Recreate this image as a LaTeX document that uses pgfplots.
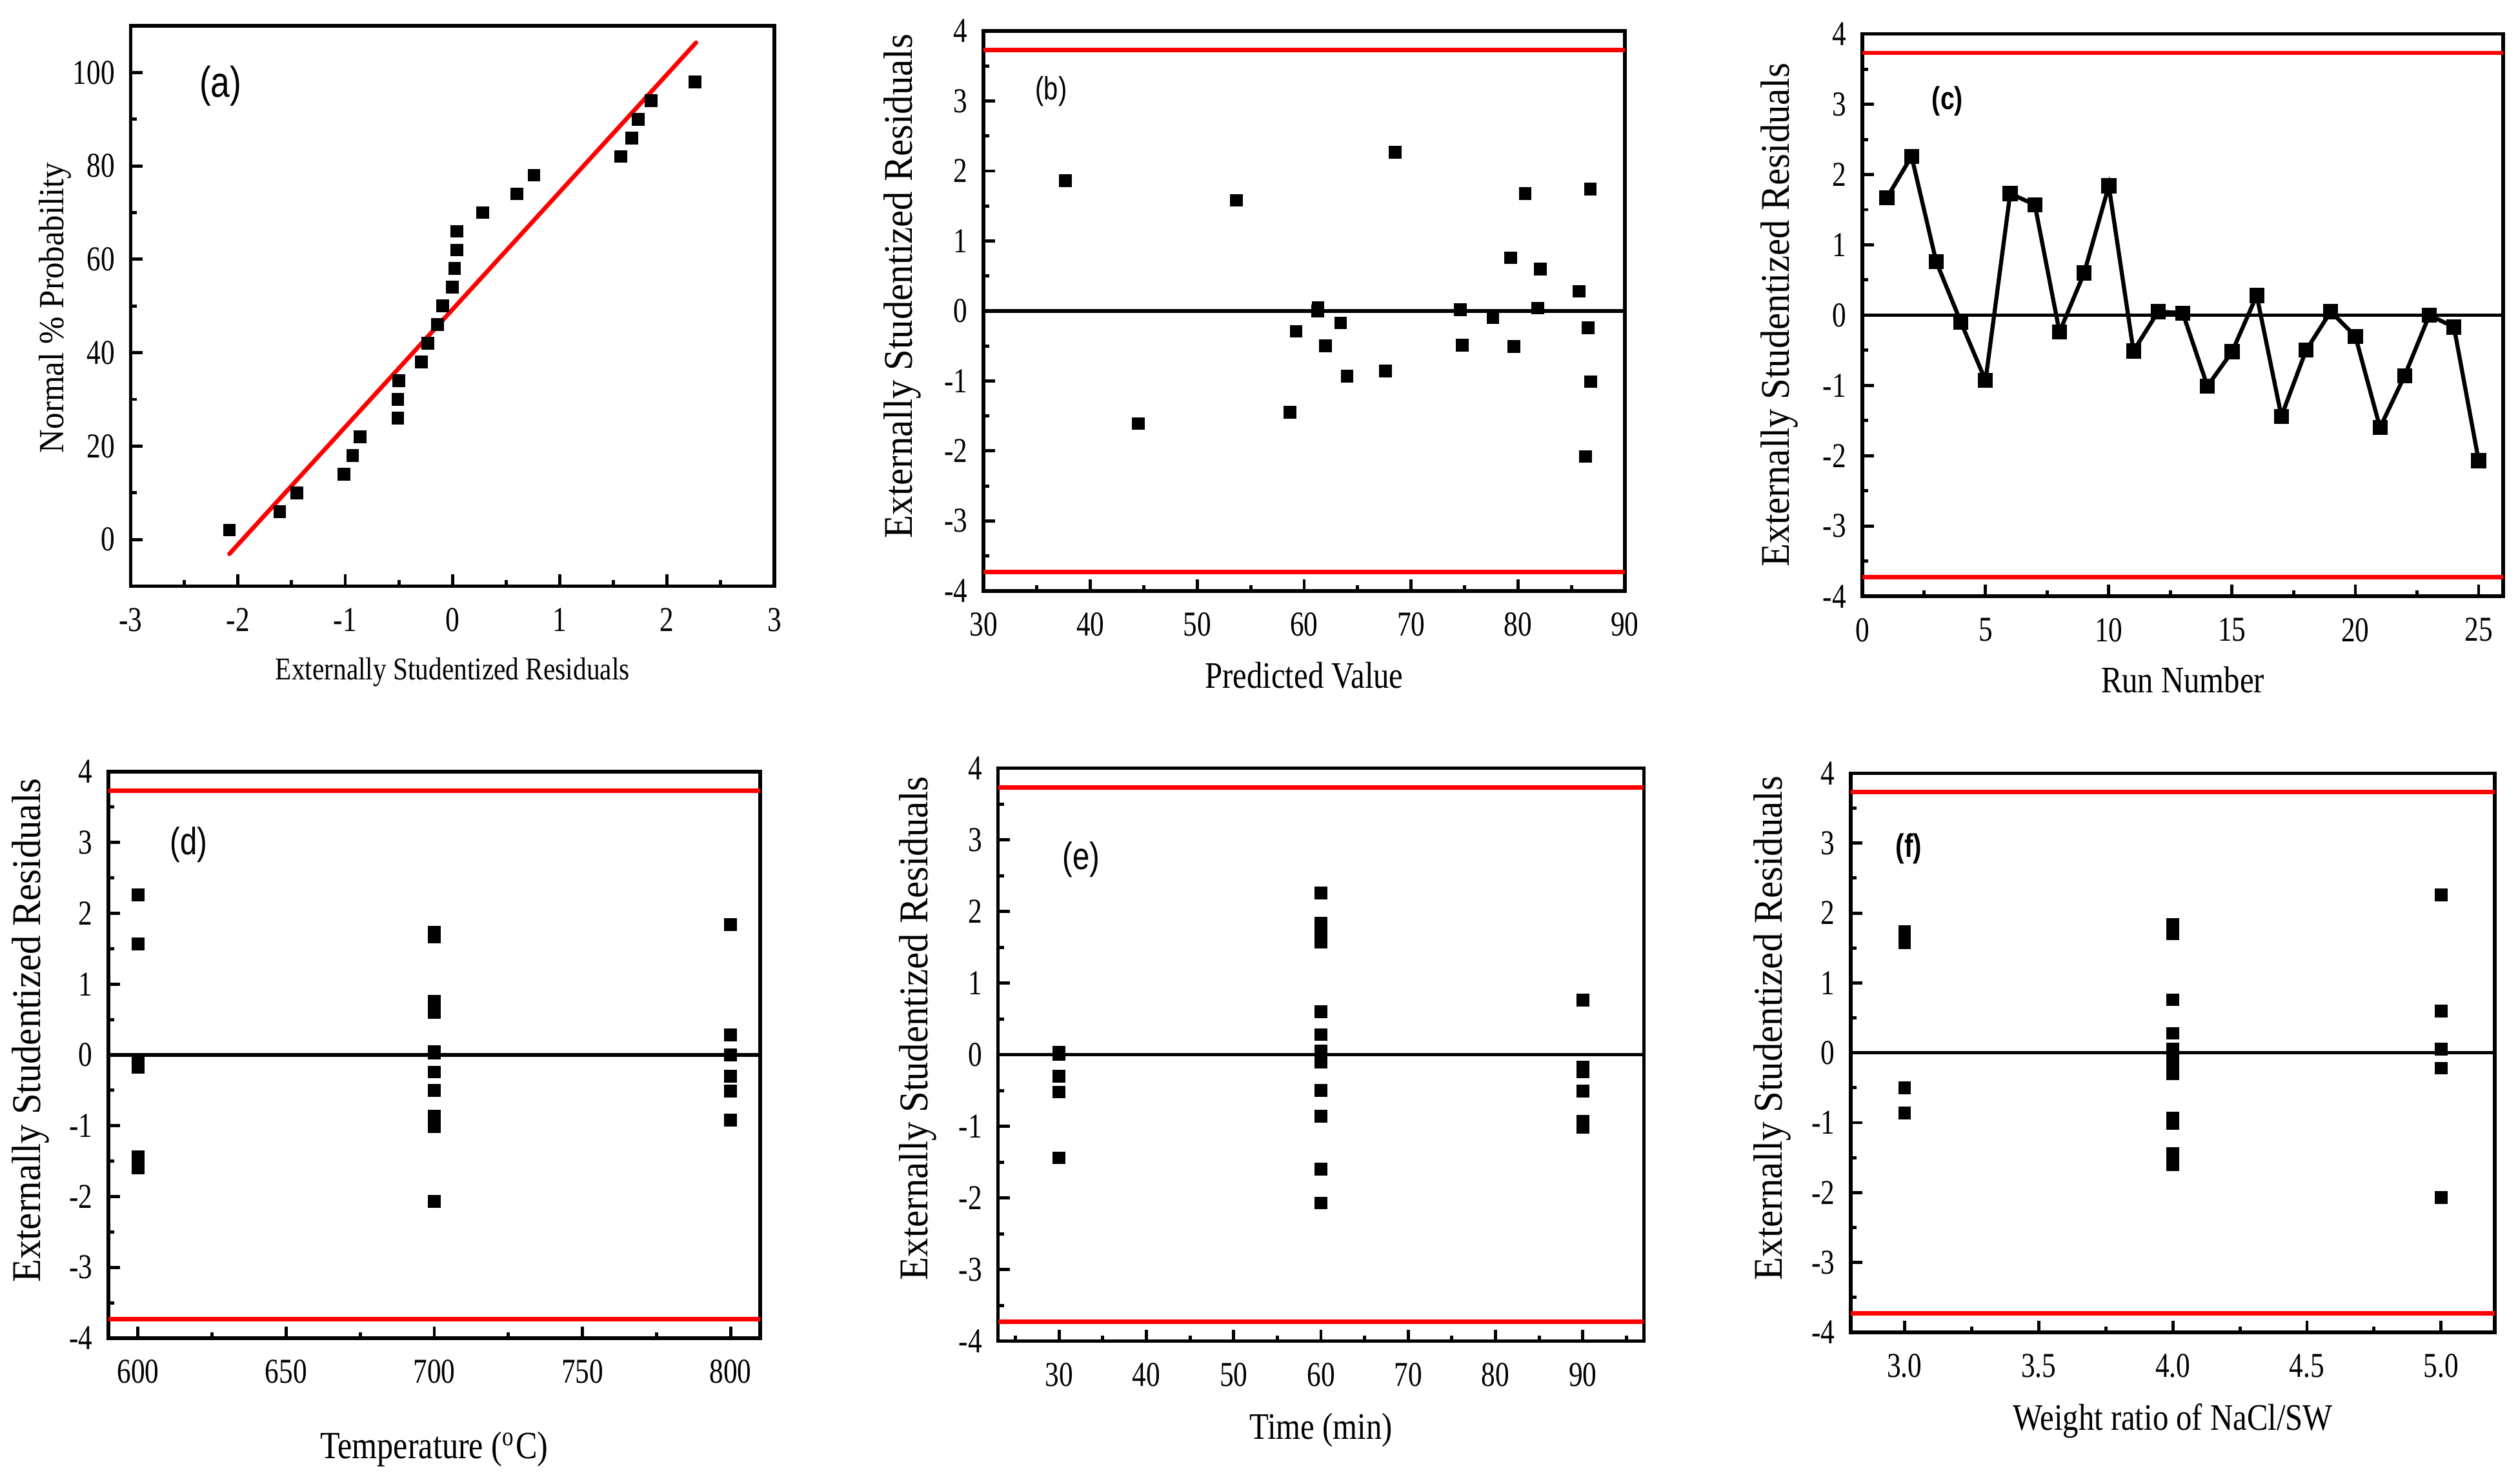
\documentclass[border=0pt]{standalone}
\usepackage{fontspec}
\setmainfont{Liberation Serif}
\newfontfamily\tickfont[FakeStretch=0.8]{Liberation Serif}
\newfontfamily\xlabfont[FakeStretch=0.84]{Liberation Serif}
\newfontfamily\ylabfont[FakeStretch=0.93]{Liberation Serif}
\newfontfamily\panfont[FakeStretch=0.8]{Liberation Sans}
\usepackage{pgfplots}
\pgfplotsset{compat=1.18}

% 1 px of the reference = 0.05 mm
\pgfplotsset{
  resid/.style={
    scale only axis, anchor=south west,
    axis line style={line width=0.8pt},
    tick align=inside, tick pos=left,
    major tick length=0.9mm, minor tick length=0.45mm,
    every tick/.append style={line width=0.7pt, black},
    /pgf/number format/assume math mode=true,
    tick label style={font=\tickfont\fontsize{7.7}{8}\selectfont},
    xticklabel style={yshift=-0.45mm},
    xlabel style={font=\xlabfont\fontsize{8.25}{9}\selectfont, anchor=base},
    ylabel style={font=\ylabfont\fontsize{9}{10}\selectfont, anchor=center},
  },
  res4/.style={
    resid,
    ymin=-4, ymax=4, ytick={-4,-3,...,4}, minor y tick num=1,
    ylabel={Externally Studentized Residuals},
  },
  pts/.style={only marks, mark=square*, mark size=1.2pt, black},
  lim/.style={red, line width=0.95pt, no marks},
  zero/.style={black, line width=0.75pt, no marks},
}

\begin{document}
\begin{tikzpicture}
\useasboundingbox (0,0) rectangle (195.1mm,-115mm);

% (a) normal probability plot
\begin{axis}[resid,
    at={(10.125mm,-45.425mm)}, width=49.875mm, height=43.425mm,
    xmin=-3, xmax=3, ymin=-10, ymax=110,
    xtick={-3,...,3}, ytick={0,20,...,100}, minor tick num=1,
    xlabel={Externally Studentized Residuals},
    xlabel style={font=\xlabfont\fontsize{7}{8}\selectfont, at={(axis description cs:0.5,-0.167)}},
    ylabel={Normal \% Probability},
    ylabel style={font=\ylabfont\fontsize{7.8}{9}\selectfont, at={(axis description cs:-0.117,0.497)}},
]
\addplot[red, line width=0.95pt, line cap=round] coordinates {(-2.08,-3.1) (2.27,106.4)};
\addplot[pts] coordinates {
  (-2.08,2) (-1.61,6) (-1.45,10) (-1.01,14) (-0.93,18) (-0.86,22)
  (-0.51,26) (-0.51,30) (-0.50,34) (-0.29,38) (-0.23,42) (-0.14,46)
  (-0.09,50) (0.00,54) (0.02,58) (0.04,62) (0.04,66) (0.28,70)
  (0.60,74) (0.76,78) (1.57,82) (1.67,86) (1.73,90) (1.85,94) (2.26,98)
};
\node[font=\panfont\fontsize{9.5}{10}\selectfont] at (rel axis cs:0.1396,0.8926) {(a)};
\end{axis}

% (b) residuals vs predicted
\begin{axis}[res4,
    at={(76.2mm,-45.79mm)}, width=49.7mm, height=43.39mm,
    xmin=30, xmax=90, xtick={30,40,...,90}, minor x tick num=1,
    xlabel={Predicted Value},
    xlabel style={at={(axis description cs:0.5,-0.174)}},
    ylabel style={at={(axis description cs:-0.126,0.544)}},
]
\addplot[lim] coordinates {(30,3.73) (90,3.73)};
\addplot[lim] coordinates {(30,-3.73) (90,-3.73)};
\addplot[zero] coordinates {(30,0) (90,0)};
\addplot[pts] coordinates {
  (37.65,1.86) (44.49,-1.61) (53.65,1.58) (58.69,-1.45) (59.24,-0.29)
  (61.25,0.00) (61.30,0.05) (62.00,-0.50) (63.42,-0.17) (64.02,-0.93) (67.60,-0.86)
  (68.50,2.27) (74.59,0.02) (74.79,-0.49) (77.66,-0.09) (79.32,0.76)
  (79.62,-0.51) (80.68,1.68) (81.84,0.04) (82.09,0.60) (85.71,0.28)
  (86.32,-2.08) (86.57,-0.24) (86.77,1.74) (86.82,-1.01)
};
\node[font=\panfont\fontsize{7.1}{8}\selectfont] at (rel axis cs:0.1056,0.892) {(b)};
\end{axis}

% (c) residuals vs run
\begin{axis}[res4,
    at={(144.29mm,-46.21mm)}, width=49.67mm, height=43.58mm,
    xmin=0, xmax=26, xtick={0,5,...,25}, minor x tick num=1,
    xlabel={Run Number},
    xlabel style={at={(axis description cs:0.5,-0.1715)}},
    ylabel style={at={(axis description cs:-0.129,0.5)}},
]
\addplot[lim] coordinates {(0,3.73) (26,3.73)};
\addplot[lim] coordinates {(0,-3.73) (26,-3.73)};
\addplot[zero] coordinates {(0,0) (26,0)};
\addplot[black, line width=0.9pt, mark=square*, mark size=1.2pt] coordinates {
  (1,1.67) (2,2.26) (3,0.76) (4,-0.10) (5,-0.93) (6,1.73) (7,1.57)
  (8,-0.24) (9,0.60) (10,1.84) (11,-0.51) (12,0.05) (13,0.03) (14,-1.01)
  (15,-0.52) (16,0.28) (17,-1.44) (18,-0.50) (19,0.05) (20,-0.30)
  (21,-1.60) (22,-0.86) (23,0.00) (24,-0.17) (25,-2.07)
};
\node[font=\panfont\bfseries\fontsize{7}{8}\selectfont] at (rel axis cs:0.133,0.881) {(c)};
\end{axis}

% (d) residuals vs temperature
\begin{axis}[res4,
    at={(8.4mm,-103.7mm)}, width=50.5mm, height=43.9mm,
    xmin=590, xmax=810, xtick={600,650,...,800}, minor x tick num=1,
    xlabel={Temperature (\textsuperscript{o}C)},
    xlabel style={font=\xlabfont\fontsize{8.5}{9}\selectfont, at={(axis description cs:0.5,-0.212)}},
    ylabel style={at={(axis description cs:-0.119,0.543)}},
]
\addplot[lim] coordinates {(590,3.73) (810,3.73)};
\addplot[lim] coordinates {(590,-3.73) (810,-3.73)};
\addplot[zero] coordinates {(590,0) (810,0)};
\addplot[pts] coordinates {
  (600,2.26) (600,1.57) (600,-0.10) (600,-0.17) (600,-1.44) (600,-1.60)
  (700,1.67) (700,1.73) (700,0.76) (700,0.60) (700,0.05) (700,0.03)
  (700,-0.24) (700,-0.50) (700,-0.86) (700,-0.93) (700,-1.01) (700,-2.07)
  (800,1.84) (800,0.28) (800,0.00) (800,-0.30) (800,-0.51) (800,-0.92)
};
\node[font=\panfont\fontsize{8.4}{9}\selectfont] at (rel axis cs:0.123,0.871) {(d)};
\end{axis}

% (e) residuals vs time
\begin{axis}[res4,
    at={(77.33mm,-103.93mm)}, width=50.04mm, height=44.4mm,
    xmin=23, xmax=97, xtick={30,40,...,90}, minor xtick={25,35,...,95},
    xlabel={Time (min)},
    xlabel style={at={(axis description cs:0.5,-0.1706)}},
    ylabel style={at={(axis description cs:-0.124,0.546)}},
]
\addplot[lim] coordinates {(23,3.73) (97,3.73)};
\addplot[lim] coordinates {(23,-3.73) (97,-3.73)};
\addplot[zero] coordinates {(23,0) (97,0)};
\addplot[pts] coordinates {
  (30,0.03) (30,0.00) (30,-0.30) (30,-0.52) (30,-1.44)
  (60,2.26) (60,1.84) (60,1.73) (60,1.67) (60,1.57) (60,0.60) (60,0.28)
  (60,0.05) (60,-0.10) (60,-0.50) (60,-0.86) (60,-1.60) (60,-2.07)
  (90,0.76) (90,-0.17) (90,-0.24) (90,-0.51) (90,-0.93) (90,-1.01)
};
\node[font=\panfont\fontsize{8.4}{9}\selectfont] at (rel axis cs:0.129,0.8405) {(e)};
\end{axis}

% (f) residuals vs NaCl/SW ratio
\begin{axis}[res4,
    at={(143.41mm,-103.25mm)}, width=49.89mm, height=43.33mm,
    xmin=2.8, xmax=5.2, xtick={3,3.5,...,5}, minor x tick num=1,
    xticklabel style={/pgf/number format/.cd, fixed, fixed zerofill, precision=1},
    xlabel={Weight ratio of NaCl/SW},
    xlabel style={at={(axis description cs:0.5,-0.1754)}},
    ylabel style={at={(axis description cs:-0.122,0.544)}},
]
\addplot[lim] coordinates {(2.8,3.73) (5.2,3.73)};
\addplot[lim] coordinates {(2.8,-3.73) (5.2,-3.73)};
\addplot[zero] coordinates {(2.8,0) (5.2,0)};
\addplot[pts] coordinates {
  (3,1.73) (3,1.57) (3,-0.50) (3,-0.86)
  (4,1.84) (4,1.70) (4,0.76) (4,0.28) (4,0.05) (4,0.03) (4,0.00)
  (4,-0.10) (4,-0.17) (4,-0.30) (4,-0.93) (4,-1.01) (4,-1.44) (4,-1.60)
  (5,2.26) (5,0.60) (5,0.05) (5,-0.22) (5,-2.07)
};
\node[font=\panfont\bfseries\fontsize{7.2}{8}\selectfont] at (rel axis cs:0.09,0.865) {(f)};
\end{axis}
\end{tikzpicture}
\end{document}
